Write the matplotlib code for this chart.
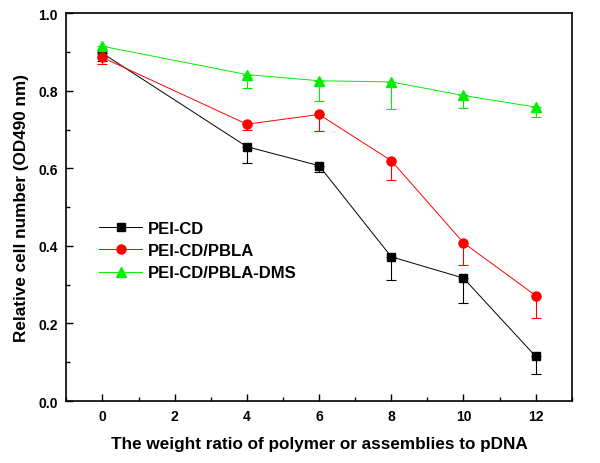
import matplotlib
matplotlib.use('Agg')
import matplotlib.pyplot as plt
import numpy as np
from matplotlib.ticker import MultipleLocator, FormatStrFormatter

# weight ratio of polymer or assemblies to pDNA
ratios = [0, 4, 6, 8, 10, 12]

# relative cell number (OD490 nm) and lower error bars
pei_cd = [0.897, 0.656, 0.607, 0.372, 0.317, 0.115]
pei_cd_err = [0.020, 0.042, 0.016, 0.060, 0.065, 0.045]

pei_cd_pbla = [0.886, 0.714, 0.739, 0.620, 0.408, 0.272]
pei_cd_pbla_err = [0.017, 0.015, 0.042, 0.050, 0.057, 0.057]

pei_cd_pbla_dms = [0.915, 0.842, 0.826, 0.823, 0.788, 0.758]
pei_cd_pbla_dms_err = [0.010, 0.034, 0.053, 0.070, 0.033, 0.026]

labels = ['PEI-CD', 'PEI-CD/PBLA', 'PEI-CD/PBLA-DMS']
colors = ['black', '#ff0000', '#00ee00']
markers = ['s', 'o', '^']
marker_sizes = [6, 6.5, 7]

plt.rcParams['font.family'] = ['Liberation Sans', 'DejaVu Sans']
plt.rcParams['font.weight'] = 'bold'

fig = plt.figure(figsize=(6.0, 4.64), dpi=100)
ax = fig.add_axes([0.1105, 0.1336, 0.8425, 0.8356])

series = [
    (pei_cd, pei_cd_err),
    (pei_cd_pbla, pei_cd_pbla_err),
    (pei_cd_pbla_dms, pei_cd_pbla_dms_err),
]
handles = []
for (vals, errs), label, color, marker, ms in zip(series, labels, colors, markers, marker_sizes):
    # only the lower half of each error bar is drawn
    ax.errorbar(ratios, vals, yerr=[errs, np.zeros(len(errs))], fmt='none',
                ecolor=color, elinewidth=0.8, capsize=3.5, capthick=0.8, zorder=2)
    line, = ax.plot(ratios, vals, color=color, lw=0.7, marker=marker,
                    markersize=ms, markeredgecolor=color, markerfacecolor=color,
                    label=label, zorder=3)
    handles.append(line)

ax.set_xlim(-1, 13)
ax.set_ylim(0.0, 1.0)
ax.xaxis.set_major_locator(MultipleLocator(2))
ax.xaxis.set_minor_locator(MultipleLocator(1))
ax.yaxis.set_major_locator(MultipleLocator(0.2))
ax.yaxis.set_minor_locator(MultipleLocator(0.1))
ax.yaxis.set_major_formatter(FormatStrFormatter('%.1f'))

ax.tick_params(which='both', direction='in', top=False, right=False,
               labelsize=10, width=1.0, pad=6)
ax.tick_params(which='major', length=5)
ax.tick_params(which='minor', length=3)
for spine in ax.spines.values():
    spine.set_linewidth(1.2)

ax.set_xlabel('The weight ratio of polymer or assemblies to pDNA',
              fontsize=12.3, fontweight='bold', labelpad=9)
ax.set_ylabel('Relative cell number (OD490 nm)',
              fontsize=12.3, fontweight='bold', labelpad=7)

ax.legend(handles=handles, loc='upper left', bbox_to_anchor=(0.065, 0.465),
          frameon=False, handlelength=2.6, handletextpad=0.3,
          labelspacing=0.44, borderpad=0, borderaxespad=0,
          prop={'weight': 'bold', 'size': 12})

fig.savefig('out.png', dpi=100)
